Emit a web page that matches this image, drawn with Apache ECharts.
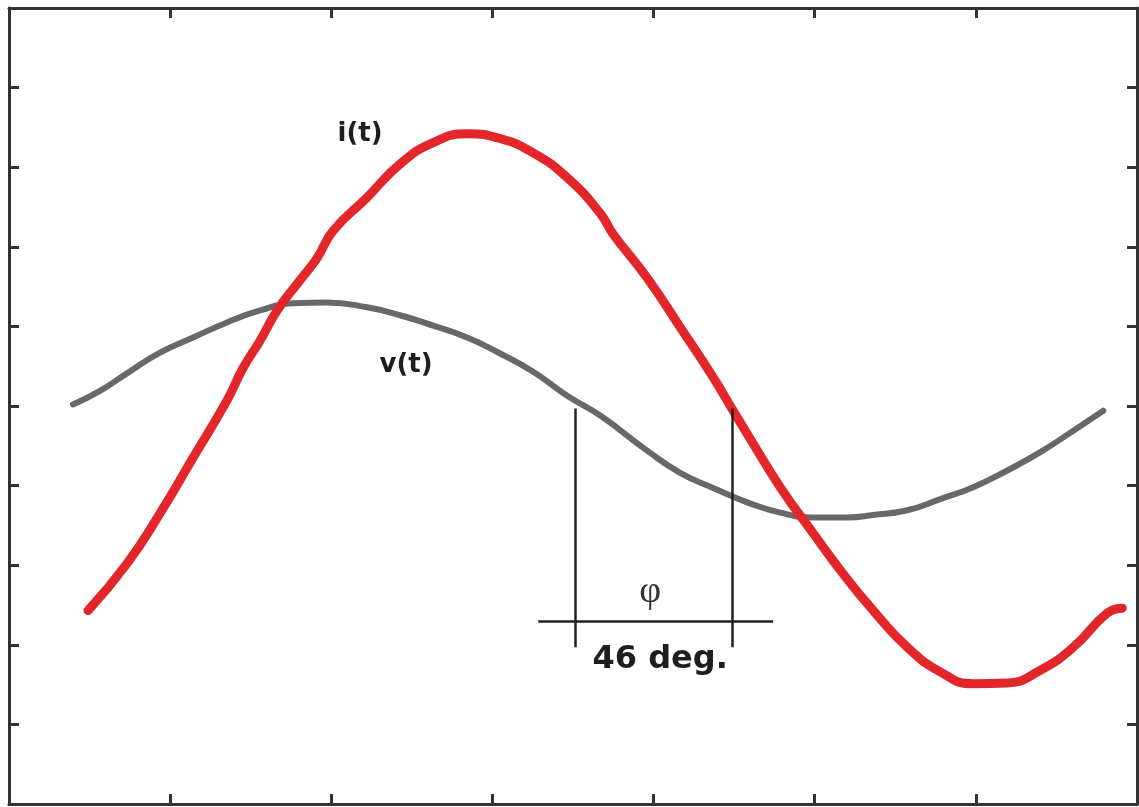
<!DOCTYPE html>
<html>
<head>
<meta charset="utf-8">
<script src="https://cdn.jsdelivr.net/npm/echarts@6/dist/echarts.min.js"></script>
<style>
  html, body { margin: 0; padding: 0; background: #fff; }
  #chart { width: 1139px; height: 807px; }
</style>
</head>
<body>
<div id="chart"></div>
<script>
// v(t) - voltage [t, value]
const vData = [
  [0.397, 0.02], [0.565, 0.19], [0.732, 0.41], [0.937, 0.67], [1.142, 0.86],
  [1.353, 1.05], [1.558, 1.20], [1.763, 1.29], [1.974, 1.30], [2.222, 1.24],
  [2.427, 1.14], [2.632, 1.01], [2.843, 0.86], [3.048, 0.66], [3.253, 0.43],
  [3.464, 0.13], [3.669, -0.12], [3.960, -0.56], [4.165, -0.84],
  [4.370, -1.03], [4.581, -1.21], [4.786, -1.34], [4.991, -1.40], [5.202, -1.40],
  [5.363, -1.37], [5.574, -1.31], [5.779, -1.17], [5.984, -1.02], [6.195, -0.81],
  [6.400, -0.58], [6.605, -0.31], [6.791, -0.06]
]

// i(t) - current
const iData = [
  [0.490, -2.57], [0.732, -1.98], [0.937, -1.35], [1.142, -0.65], [1.353, 0.07],
  [1.453, 0.48], [1.558, 0.82], [1.664, 1.20], [1.806, 1.58], [1.912, 1.86],
  [2.011, 2.20], [2.222, 2.62], [2.427, 3.04], [2.632, 3.31], [2.843, 3.42],
  [3.048, 3.36], [3.253, 3.18], [3.464, 2.87], [3.669, 2.42], [3.749, 2.16],
  [3.960, 1.61], [4.165, 0.99], [4.370, 0.36], [4.494, -0.06], [4.581, -0.35],
  [4.786, -1.02], [4.991, -1.60], [5.158, -2.06], [5.363, -2.57], [5.574, -3.03],
  [5.779, -3.34], [5.984, -3.49], [6.195, -3.48], [6.400, -3.32], [6.605, -3.03],
  [6.816, -2.60], [6.909, -2.54]
]

// phase marker lines
const phaseLines = [
  [[3.513, -0.03], [3.513, -3.03]],
  [[4.488, -0.03], [4.488, -3.03]],
  [[3.284, -2.704], [4.742, -2.704]]
]

// text labels [x, y, text]
const curveLabels = [
  [2.179, 3.42, 'i(t)'],
  [2.464, 0.51, 'v(t)']
]
const phiLabel = [3.979, -2.34, 'φ']
const degLabel = [4.041, -3.19, '46 deg.']

const chart = echarts.init(document.getElementById('chart'))

const axisStyle = {
  axisLine: { show: true, onZero: false, lineStyle: { color: '#333', width: 3 } },
  axisTick: { show: true, inside: true, length: 10, lineStyle: { color: '#333', width: 3 } },
  axisLabel: { show: false },
  splitLine: { show: false }
}

function textSeries(items, font) {
  return {
    type: 'scatter',
    symbolSize: 0,
    silent: true,
    itemStyle: { opacity: 1 },
    data: items.map(d => ({ value: [d[0], d[1]], name: d[2] })),
    label: Object.assign({ show: true, position: 'inside', formatter: '{b}', color: '#1e1e1e' }, font),
    z: 5
  }
}

const option = {
  animation: false,
  backgroundColor: '#fff',
  grid: { left: 9, right: 2, top: 8, bottom: 3 },
  xAxis: [
    Object.assign({ type: 'value', min: 0, max: 7, interval: 1, position: 'bottom' }, axisStyle),
    Object.assign({ type: 'value', min: 0, max: 7, interval: 1, position: 'top' }, axisStyle)
  ],
  yAxis: [
    Object.assign({ type: 'value', min: -5, max: 5, interval: 1, position: 'left' }, axisStyle),
    Object.assign({ type: 'value', min: -5, max: 5, interval: 1, position: 'right' }, axisStyle)
  ],
  series: [
    {
      name: 'v(t)',
      type: 'line',
      data: vData,
      smooth: 0.5,
      showSymbol: false,
      lineStyle: { color: '#686868', width: 6, cap: 'round' },
      z: 2
    },
    {
      name: 'i(t)',
      type: 'line',
      data: iData,
      smooth: 0.5,
      showSymbol: false,
      lineStyle: { color: '#e2262a', width: 9, cap: 'round' },
      z: 3
    },
    {
      type: 'lines',
      coordinateSystem: 'cartesian2d',
      data: phaseLines.map(c => ({ coords: c })),
      lineStyle: { color: '#222', width: 2.5, opacity: 1 },
      z: 4
    },
    textSeries(curveLabels, { fontFamily: 'DejaVu Sans', fontWeight: 'bold', fontSize: 26 }),
    textSeries([phiLabel], { fontFamily: 'Liberation Serif', fontSize: 38, color: '#333' }),
    textSeries([degLabel], { fontFamily: 'DejaVu Sans', fontWeight: 'bold', fontSize: 32 })
  ]
}

chart.setOption(option)
</script>
</body>
</html>
